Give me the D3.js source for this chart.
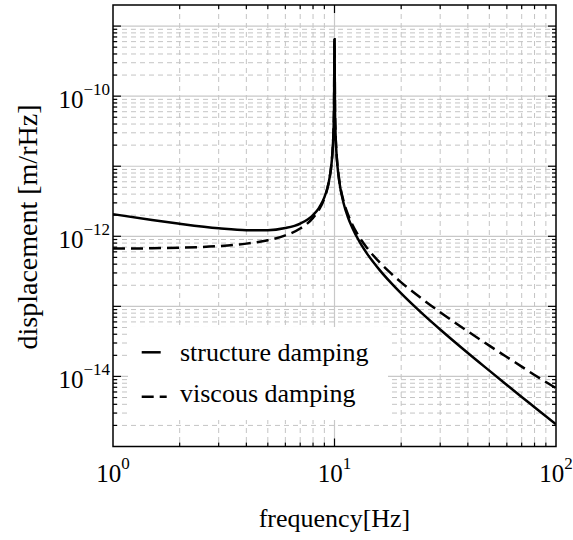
<!DOCTYPE html>
<html>
<head>
<meta charset="utf-8">
<script src="https://cdn.jsdelivr.net/npm/d3@7"></script>
<style>
  html, body { margin: 0; padding: 0; background: #fff; }
  svg { display: block; }
  text { font-family: "Liberation Serif", "Times New Roman", "DejaVu Serif", serif; fill: #000; }
</style>
</head>
<body>
<svg id="chart" width="573" height="540"></svg>
<script>
// ---- data ----
const freq = [1, 1.5, 2, 3, 4, 5, 6, 7, 8, 8.5, 9, 9.3, 9.5, 9.7, 9.8, 9.9, 9.95, 10,
  10.05, 10.1, 10.2, 10.3, 10.5, 11, 11.5, 12, 13, 14, 16, 18, 20, 25, 30, 40, 50, 60, 70, 80, 100];
const structureDamping = [2.07e-12, 1.71e-12, 1.51e-12, 1.30e-12, 1.22e-12, 1.22e-12, 1.31e-12, 1.52e-12,
  2.01e-12, 2.53e-12, 3.60e-12, 4.98e-12, 6.82e-12, 1.11e-11, 1.65e-11, 3.27e-11, 6.5e-11, 6.5e-10,
  6.45e-11, 3.21e-11, 1.59e-11, 1.05e-11, 6.17e-12, 2.94e-12, 1.87e-12, 1.35e-12, 8.24e-13, 5.71e-13,
  3.29e-13, 2.16e-13, 1.53e-13, 7.81e-14, 4.68e-14, 2.16e-14, 1.21e-14, 7.56e-15, 5.10e-15, 3.64e-15, 2.07e-15];
const viscousDamping = [6.67e-13, 6.75e-13, 6.88e-13, 7.25e-13, 7.86e-13, 8.80e-13, 1.03e-12, 1.29e-12,
  1.83e-12, 2.38e-12, 3.47e-12, 4.89e-12, 6.77e-12, 1.12e-11, 1.67e-11, 3.32e-11, 6.58e-11, 6.5e-10,
  6.55e-11, 3.28e-11, 1.63e-11, 1.08e-11, 6.44e-12, 3.14e-12, 2.05e-12, 1.50e-12, 9.57e-13, 6.88e-13,
  4.23e-13, 2.95e-13, 2.20e-13, 1.26e-13, 8.25e-14, 4.40e-14, 2.75e-14, 1.89e-14, 1.38e-14, 1.05e-14, 6.8e-15];
const xTickExps = [0, 1, 2];
const yTickExps = [-10, -12, -14];
const seriesNames = ["structure damping", "viscous damping"];
const xLabel = "frequency[Hz]";
const yLabel = "displacement [m/rHz]";

// ---- layout ----
const L = 113, R = 556, T = 5, B = 446.5;
const svg = d3.select("#chart");
const x = d3.scaleLog().domain([1, 100]).range([L, R]);
const y = d3.scaleLog().domain([1e-15, 2e-9]).range([B, T]);

svg.append("rect").attr("width", 573).attr("height", 540).attr("fill", "#fff");

// minor/major positions
const xMinor = [], xMajor = [10];
for (const d of [1, 10]) for (let k = 2; k <= 9; k++) xMinor.push(k * d);
const yMinor = [], yMajor = [];
for (let e = -15; e <= -9; e++) {
  if (e > -15) yMajor.push(Math.pow(10, e));
  for (let k = 2; k <= 9; k++) {
    const v = k * Math.pow(10, e);
    if (v <= 2e-9 * 1.0001) yMinor.push(v);
  }
}
const yMinorIn = yMinor.filter(v => v < 1.99e-9);

const grid = svg.append("g");
grid.selectAll("line.xm").data(xMinor).join("line")
  .attr("x1", d => x(d)).attr("x2", d => x(d)).attr("y1", T).attr("y2", B)
  .attr("stroke", "#c4c4c4").attr("stroke-width", 1).attr("stroke-dasharray", "5,4");
grid.selectAll("line.ym").data(yMinorIn).join("line")
  .attr("x1", L).attr("x2", R).attr("y1", d => y(d)).attr("y2", d => y(d))
  .attr("stroke", "#c4c4c4").attr("stroke-width", 1).attr("stroke-dasharray", "5,4");
grid.selectAll("line.xM").data(xMajor).join("line")
  .attr("x1", d => x(d)).attr("x2", d => x(d)).attr("y1", T).attr("y2", B)
  .attr("stroke", "#c8c8c8").attr("stroke-width", 1.2);
grid.selectAll("line.yM").data(yMajor).join("line")
  .attr("x1", L).attr("x2", R).attr("y1", d => y(d)).attr("y2", d => y(d))
  .attr("stroke", "#c8c8c8").attr("stroke-width", 1.2);

// legend background (hides grid)
svg.append("rect").attr("x", 128).attr("y", 327).attr("width", 260).attr("height", 93).attr("fill", "#fff");

// clip
svg.append("clipPath").attr("id", "clip").append("rect")
  .attr("x", L).attr("y", T).attr("width", R - L).attr("height", B - T);

const line = d3.line().x((d, i) => x(freq[i])).y(d => y(d)).curve(d3.curveMonotoneX);
const plot = svg.append("g").attr("clip-path", "url(#clip)");
plot.append("path").datum(viscousDamping).attr("d", line)
  .attr("fill", "none").attr("stroke", "#000").attr("stroke-width", 2.5)
  .attr("stroke-dasharray", "12,6");
plot.append("path").datum(structureDamping).attr("d", line)
  .attr("fill", "none").attr("stroke", "#000").attr("stroke-width", 2.5);

// frame
svg.append("rect").attr("x", L).attr("y", T).attr("width", R - L).attr("height", B - T)
  .attr("fill", "none").attr("stroke", "#000").attr("stroke-width", 1.5);

// ticks (inward) on all sides
const tk = svg.append("g").attr("stroke", "#000").attr("stroke-width", 1.2);
const xAll = xMinor.map(v => ({v, len: 4})).concat(xMajor.map(v => ({v, len: 8})));
const yAll = yMinorIn.map(v => ({v, len: 4})).concat(yMajor.map(v => ({v, len: 8})));
xAll.forEach(d => {
  tk.append("line").attr("x1", x(d.v)).attr("x2", x(d.v)).attr("y1", B).attr("y2", B - d.len);
  tk.append("line").attr("x1", x(d.v)).attr("x2", x(d.v)).attr("y1", T).attr("y2", T + d.len);
});
yAll.forEach(d => {
  tk.append("line").attr("x1", L).attr("x2", L + d.len).attr("y1", y(d.v)).attr("y2", y(d.v));
  tk.append("line").attr("x1", R).attr("x2", R - d.len).attr("y1", y(d.v)).attr("y2", y(d.v));
});

// tick labels
const fsTick = 25, fsSup = 17;
xTickExps.forEach(e => {
  const t = svg.append("text").attr("x", x(Math.pow(10, e))).attr("y", 482)
    .attr("text-anchor", "middle").attr("font-size", fsTick);
  t.append("tspan").text("10");
  t.append("tspan").attr("dy", -13).attr("font-size", fsSup).text(String(e));
});
yTickExps.forEach(e => {
  const t = svg.append("text").attr("x", 110).attr("y", y(Math.pow(10, e)) + 12)
    .attr("text-anchor", "end").attr("font-size", fsTick);
  t.append("tspan").text("10");
  t.append("tspan").attr("dy", -13).attr("font-size", fsSup).text("\u2212" + String(-e));
});

// axis labels
svg.append("text").attr("x", (L + R) / 2).attr("y", 527).attr("text-anchor", "middle")
  .attr("font-size", 26).text(xLabel);
svg.append("text").attr("transform", `translate(37,227) rotate(-90)`)
  .attr("text-anchor", "middle").attr("font-size", 28).text(yLabel);

// legend
const lg = svg.append("g");
lg.append("line").attr("x1", 141.7).attr("x2", 160.7).attr("y1", 352.3).attr("y2", 352.3)
  .attr("stroke", "#000").attr("stroke-width", 2.5);
lg.append("line").attr("x1", 141.7).attr("x2", 166.7).attr("y1", 396.7).attr("y2", 396.7)
  .attr("stroke", "#000").attr("stroke-width", 2.5).attr("stroke-dasharray", "12,6");
lg.append("text").attr("x", 180).attr("y", 360.7).attr("font-size", 26).text(seriesNames[0]);
lg.append("text").attr("x", 180).attr("y", 401.7).attr("font-size", 26).text(seriesNames[1]);
</script>
</body>
</html>
